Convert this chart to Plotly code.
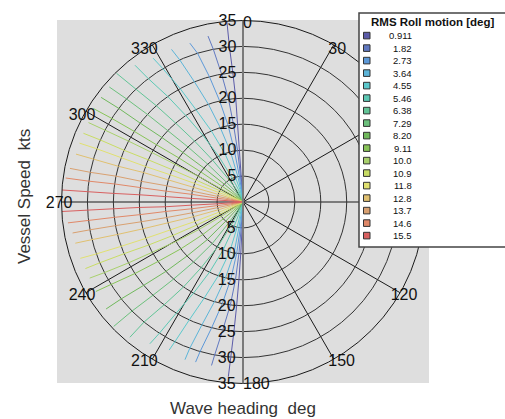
import plotly.graph_objects as go

# Contour levels of RMS roll motion [deg] and their line colours
LEVELS = [0.911, 1.82, 2.73, 3.64, 4.55, 5.46, 6.38, 7.29, 8.20, 9.11,
          10.0, 10.9, 11.8, 12.8, 13.7, 14.6, 15.5]
LEVEL_LABELS = ["0.911", "1.82", "2.73", "3.64", "4.55", "5.46", "6.38", "7.29",
                "8.20", "9.11", "10.0", "10.9", "11.8", "12.8", "13.7", "14.6", "15.5"]
COLORS = ["#5b5ba8", "#6078c0", "#5c98d8", "#5cb4d8", "#5cc8cc", "#5cc8b4",
          "#62c496", "#6cc07c", "#70b85c", "#88c458", "#a8d06c", "#c8dc64",
          "#e0e070", "#e0c070", "#d8a070", "#e08868", "#d86060"]

# Vessel speeds [kts] at which each contour's heading is given
SPEED_NODES = [2.5, 5, 10, 15, 20, 25, 30]

# Contour headings [deg] on the 270-360 side: values at SPEED_NODES, then at the line end
HEADINGS_270_360 = [
    [356, 356, 356, 356, 356, 355.5, 355, 354.9],
    [355, 354.5, 354, 353, 352, 350.5, 349, 348.1],
    [353, 352, 350.5, 349, 347, 345, 343, 341.5],
    [350, 348.5, 346, 343, 340.5, 338, 336, 334.9],
    [346, 343, 339.5, 336, 333, 331, 329, 328],
    [340, 336, 332, 329, 326.5, 324.5, 322.5, 321.7],
    [333, 328, 324, 321.5, 319.5, 318, 316.5, 315.5],
    [325, 320, 317, 315, 313.5, 312.5, 311.5, 310.7],
    [317, 313.5, 311, 309.5, 308.5, 307.5, 307, 306.4],
    [310, 307, 305.5, 304.5, 303.5, 303, 302.5, 302],
    [303, 301, 300, 299, 298.5, 298, 297.5, 297.2],
    [297, 296, 295, 294.5, 294, 293.5, 293.5, 293.3],
    [292, 291.5, 291, 290.5, 290, 290, 290, 289.8],
    [287.5, 287, 286.5, 286.5, 286.5, 286, 286, 286],
    [283, 282.5, 282, 282, 281.5, 281.5, 281, 281],
    [279, 278.5, 278.5, 278, 278, 278, 277.7, 277.7],
    [275, 274.5, 274, 274, 274, 273.8, 273.8, 273.8],
]
END_SPEED_270_360 = [35, 32.7, 32.3, 32.5, 32.7, 33.6, 34.8, 34, 34, 34,
                     33.5, 33.5, 33.5, 33.5, 34, 34.5, 35]

# Contour headings [deg] on the 180-270 side
HEADINGS_180_270 = [
    [182, 182, 182.5, 183, 183.5, 184, 184.5, 184.8],
    [184, 184, 184.5, 185.5, 187, 189, 190.5, 190.9],
    [186, 186, 187, 189, 191.5, 194, 196, 196.5],
    [189, 189, 190, 193, 196, 198.5, 200, 200.2],
    [193, 193, 195, 198.5, 202, 204.5, 206, 206.5],
    [199, 200, 202.5, 205.5, 208.5, 211, 212.5, 213.3],
    [206, 207, 209.5, 212.5, 215, 217.5, 219.5, 219.9],
    [213, 214.5, 216.5, 219.5, 222, 224, 225.5, 226.1],
    [221, 222, 223.5, 226, 228, 230, 231.5, 232],
    [228, 229.5, 231, 233, 235, 236.5, 238, 238.7],
    [235, 236.5, 238, 239.5, 241, 242, 243, 243.6],
    [241, 242, 243.5, 244.5, 245.5, 246.5, 247, 247.1],
    [246.5, 247, 248, 249, 249.5, 250, 250.5, 250.9],
    [252, 252.5, 253.5, 254.5, 255, 255.5, 256, 256.2],
    [257, 257.5, 258, 258.5, 259, 259.5, 259.7, 259.7],
    [261.5, 262, 262.5, 263, 263, 263.2, 263.2, 263.2],
    [266, 266, 266.5, 266.5, 267, 267, 267, 267],
]
END_SPEED_180_270 = [33.8, 32.1, 32.2, 32.4, 31.9, 32.7, 34, 34.6, 33.5, 33.2,
                     33, 33, 33.2, 33.3, 33.4, 34, 35]

RADIAL_TICKS = [5, 10, 15, 20, 25, 30, 35]
ANGULAR_GRID = [0, 30, 60, 90, 120, 150, 180, 210, 240, 270, 300, 330]
# heading labels left visible outside the legend box
ANGULAR_LABELS = [0, 30, 120, 150, 180, 210, 240, 270, 300, 330]

W, H = 505, 419
FONT = "Liberation Sans, Arial, sans-serif"
NBSP = "\u00a0"


def px(x):
    return x / W


def py(y):
    return 1 - y / H


def square_domain(cx, cy, rad):
    return dict(x=[px(cx - rad), px(cx + rad)], y=[py(cy + rad), py(cy - rad)])


def heading_label(a):
    # the 0 and 180 labels sit just right of the vertical speed scale
    if a == 0:
        return NBSP * 2 + "0"
    if a == 180:
        return NBSP * 6 + "180"
    return str(a)


fig = go.Figure()

for i, color in enumerate(COLORS):
    for heads, ends in ((HEADINGS_270_360, END_SPEED_270_360),
                        (HEADINGS_180_270, END_SPEED_180_270)):
        h = heads[i]
        fig.add_trace(go.Scatterpolar(
            r=[0] + SPEED_NODES + [ends[i]],
            theta=[h[0]] + h,
            mode="lines",
            line=dict(color=color, width=1),
            showlegend=False,
            hoverinfo="skip",
            subplot="polar",
        ))

# empty traces so the extra polar layers are drawn
for sp in ("polar2", "polar3"):
    fig.add_trace(go.Scatterpolar(r=[], theta=[], subplot=sp,
                                  showlegend=False, hoverinfo="skip"))

cx, cy, rad = 243, 202, 181.5
tick_font = dict(family=FONT, size=16, color="#111")
hidden_angular = dict(rotation=90, direction="clockwise", showgrid=False,
                      showline=False, showticklabels=False, ticks="")

fig.update_layout(
    width=W, height=H,
    margin=dict(l=0, r=0, t=0, b=0),
    paper_bgcolor="white",
    plot_bgcolor="white",
    showlegend=False,
    # main diagram: grid, outer ring and upper speed scale
    polar=dict(
        domain=square_domain(cx, cy, rad),
        bgcolor="rgba(0,0,0,0)",
        angularaxis=dict(
            rotation=90, direction="clockwise",
            tickmode="array", tickvals=ANGULAR_GRID,
            showgrid=True, gridcolor="#1a1a1a", gridwidth=1,
            showline=True, linecolor="#1a1a1a", linewidth=1,
            ticks="", showticklabels=False,
        ),
        radialaxis=dict(
            range=[0, 35], angle=90, side="counterclockwise",
            tickmode="array", tickvals=RADIAL_TICKS,
            showgrid=True, gridcolor="#333", gridwidth=1,
            showline=True, linecolor="#7a7a7a", linewidth=2,
            ticks="", tickangle=90, tickfont=tick_font,
        ),
    ),
    # lower speed scale along the 180 deg line
    polar2=dict(
        domain=square_domain(cx, cy, rad),
        bgcolor="rgba(0,0,0,0)",
        angularaxis=hidden_angular,
        radialaxis=dict(
            range=[0, 35], angle=270, side="clockwise",
            tickmode="array", tickvals=RADIAL_TICKS,
            showgrid=False,
            showline=True, linecolor="#7a7a7a", linewidth=2,
            ticks="", tickangle=-90, tickfont=tick_font,
        ),
    ),
    # heading labels set close to the outer ring
    polar3=dict(
        domain=square_domain(cx, cy, 170),
        bgcolor="rgba(0,0,0,0)",
        angularaxis=dict(
            rotation=90, direction="clockwise",
            tickmode="array", tickvals=ANGULAR_LABELS,
            ticktext=[heading_label(a) for a in ANGULAR_LABELS],
            showgrid=False, showline=False, ticks="", tickfont=tick_font,
        ),
        radialaxis=dict(visible=False, range=[0, 35]),
    ),
)

shapes = [
    # grey plotting area behind the polar diagram
    dict(type="rect", xref="paper", yref="paper", layer="below",
         x0=px(57), x1=px(429), y0=py(383), y1=py(20),
         fillcolor="#dedede", line=dict(width=0)),
    # legend frame
    dict(type="rect", xref="paper", yref="paper", layer="above",
         x0=px(359), x1=px(507), y0=py(247), y1=py(13),
         fillcolor="white", line=dict(color="#444", width=1.5)),
]
annotations = [
    dict(text="<b>RMS Roll motion [deg]</b>", xref="paper", yref="paper",
         x=px(432), y=py(22.5), xanchor="center", yanchor="middle",
         showarrow=False, font=dict(family=FONT, size=11.5, color="#111")),
    dict(text="Vessel Speed\u00a0 kts", xref="paper", yref="paper",
         x=px(24), y=py(197), xanchor="center", yanchor="middle",
         textangle=-90, showarrow=False,
         font=dict(family=FONT, size=17, color="#333")),
    dict(text="Wave heading\u00a0 deg", xref="paper", yref="paper",
         x=px(243), y=py(408), xanchor="center", yanchor="middle",
         showarrow=False, font=dict(family=FONT, size=17, color="#333")),
]

row0, step = 35.6, 12.5
for i, (label, color) in enumerate(zip(LEVEL_LABELS, COLORS)):
    yc = row0 + step * i
    shapes.append(dict(type="rect", xref="paper", yref="paper", layer="above",
                       x0=px(363.5), x1=px(370), y0=py(yc + 3.3), y1=py(yc - 3.3),
                       fillcolor=color, line=dict(color="#333", width=1)))
    annotations.append(dict(text=label, xref="paper", yref="paper",
                            x=px(414), y=py(yc), xanchor="right", yanchor="middle",
                            showarrow=False,
                            font=dict(family=FONT, size=9.5, color="#111")))

fig.update_layout(shapes=shapes, annotations=annotations)

fig.write_html("out.html")
